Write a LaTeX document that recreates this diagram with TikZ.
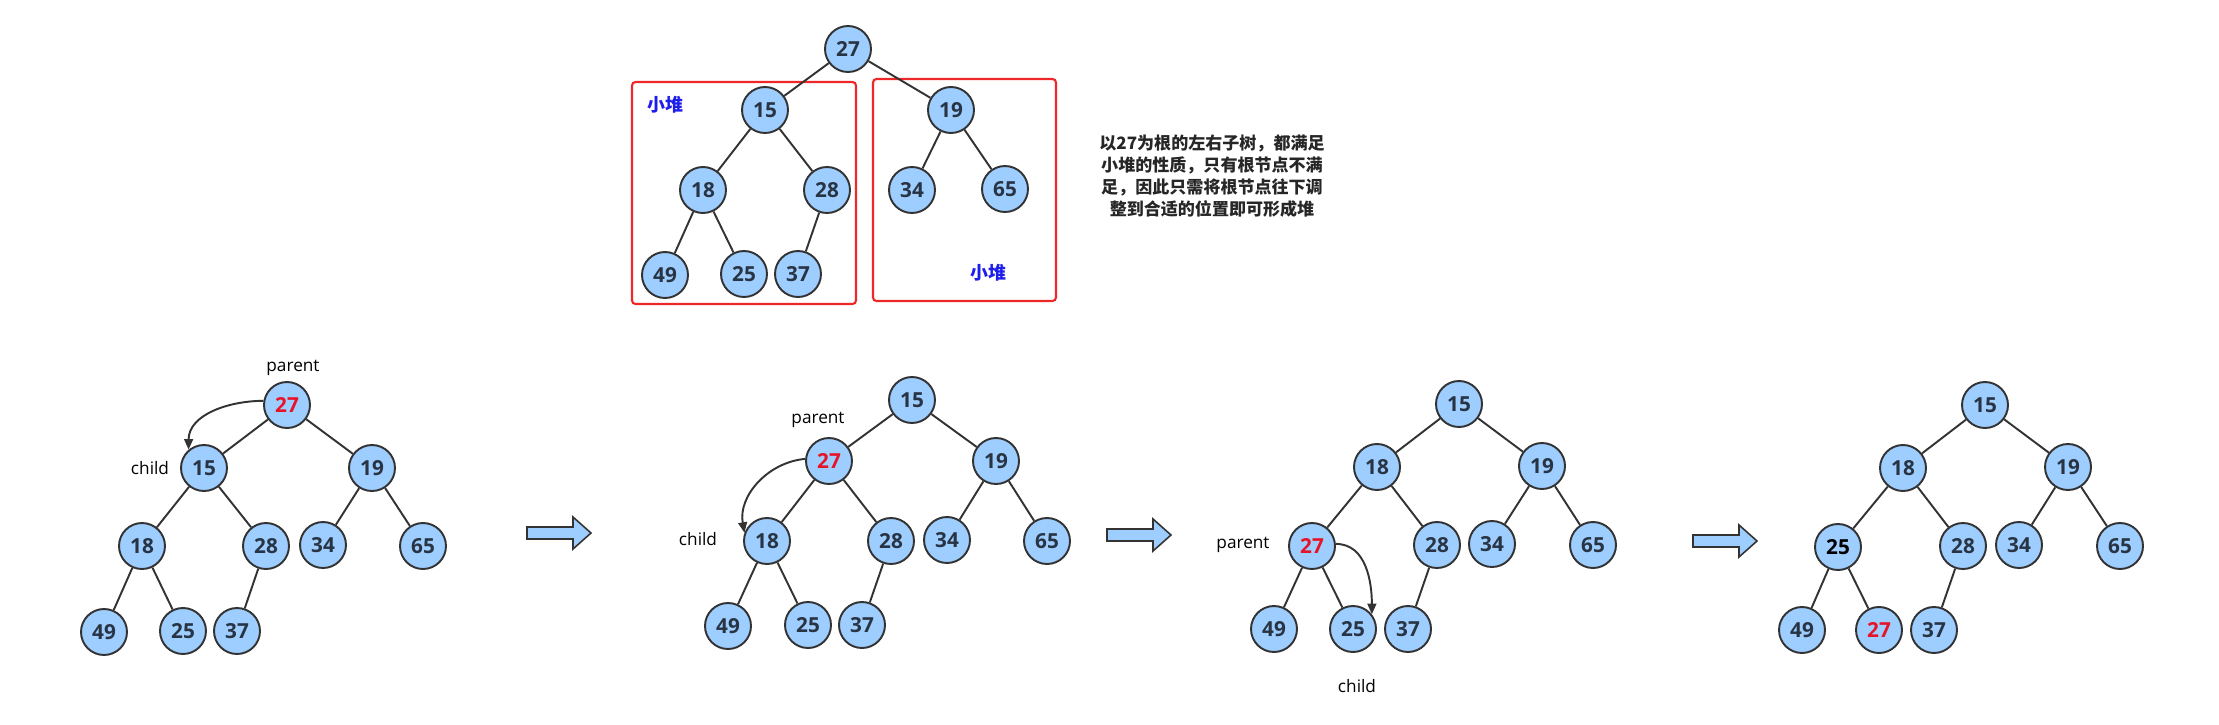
\documentclass[tikz,border=0pt]{standalone}
\usepackage{fontspec}
\setmainfont{Open Sans}
\newfontfamily\cjk{Noto Sans CJK SC}
\usetikzlibrary{arrows.meta}

\definecolor{nodeblue}{RGB}{158,206,255}
\definecolor{nodeline}{RGB}{51,51,51}
\definecolor{numtext}{RGB}{40,52,68}
\definecolor{keyred}{RGB}{230,20,40}
\definecolor{boxred}{RGB}{238,40,40}
\definecolor{heapblue}{RGB}{30,30,235}
\newcommand{\moved}[1]{\textcolor{keyred}{#1}}
\newcommand{\settled}[1]{\textcolor{black}{#1}}

\begin{document}
\begin{tikzpicture}[x=0.02cm, y=-0.02cm,
    heapnode/.style={circle, draw=nodeline, line width=1.1pt, fill=nodeblue, minimum size=0.92cm, inner sep=0pt, text=numtext, font=\fontsize{11.8}{13}\selectfont\bfseries},
    link/.style={nodeline, line width=1.1pt},
    swap/.style={nodeline, line width=1.1pt, -{Triangle[length=6pt,width=5pt]}},
    lbl/.style={font=\fontsize{9.8}{11}\selectfont, text=black},
    heaptag/.style={font=\cjk\bfseries\fontsize{10.2}{12}\selectfont, text=heapblue},
    note/.style={align=center, text=black!85, font=\cjk\bfseries\fontsize{9.7}{12.5}\selectfont},
    subheap/.style={draw=boxred, line width=1.2pt, rounded corners=2pt},
    fatarrow/.style={draw=nodeline, line width=0.9pt, fill=nodeblue, line join=miter}]
    \useasboundingbox (0,0) rectangle (2219,724);

    % Top: both subtrees of 27 are small heaps already
    \draw[subheap] (632,82) rectangle (856,304);
    \draw[subheap] (873,79) rectangle (1056,301);
    \node[heaptag] (lefttag) at (665,105) {小堆};
    \node[heaptag] (righttag) at (988,273) {小堆};
    \node[note] (why) at (1212,176) {以27为根的左右子树，都满足\\小堆的性质，只有根节点不满\\足，因此只需将根节点往下调\\整到合适的位置即可形成堆};

    \foreach \n/\x/\y/\v in {1/848/49/27, 2/765/110/15, 3/951/110/19, 4/703/190/18, 5/827/190/28,
                             6/912/190/34, 7/1005/189/65, 8/665/275/49, 9/744/274/25, 10/798/274/37}
        \node[heapnode] (t\n) at (\x,\y) {\v};

    % Bottom: sift 27 down step by step
    \foreach \n/\x/\y/\v in {1/287/405/\moved{27}, 2/204/468/15, 3/372/468/19, 4/142/546/18, 5/266/546/28,
                             6/323/545/34, 7/423/546/65, 8/104/632/49, 9/183/631/25, 10/237/631/37}
        \node[heapnode] (a\n) at (\x,\y) {\v};
    \foreach \n/\x/\y/\v in {1/912/400/15, 2/829/461/\moved{27}, 3/996/461/19, 4/767/541/18, 5/891/541/28,
                             6/947/540/34, 7/1047/541/65, 8/728/626/49, 9/808/625/25, 10/862/625/37}
        \node[heapnode] (b\n) at (\x,\y) {\v};
    \foreach \n/\x/\y/\v in {1/1459/404/15, 2/1377/467/18, 3/1542/466/19, 4/1312/546/\moved{27}, 5/1437/545/28,
                             6/1492/544/34, 7/1593/545/65, 8/1274/629/49, 9/1353/629/25, 10/1408/629/37}
        \node[heapnode] (c\n) at (\x,\y) {\v};
    \foreach \n/\x/\y/\v in {1/1985/405/15, 2/1903/468/18, 3/2068/467/19, 4/1838/547/\settled{25}, 5/1963/546/28,
                             6/2019/545/34, 7/2120/546/65, 8/1802/630/49, 9/1879/630/\moved{27}, 10/1934/630/37}
        \node[heapnode] (d\n) at (\x,\y) {\v};

    % tree edges, same shape for every tree
    \foreach \t in {t,a,b,c,d}
        \foreach \p/\c in {1/2,1/3,2/4,2/5,3/6,3/7,4/8,4/9,5/10}
            \draw[link] (\t\p) -- (\t\c);

    % parent / child markers
    \node[lbl] (aparent) at (293,368) {parent};
    \node[lbl] (achild) at (150,468) {child};
    \draw[swap] (a1.170) to[out=180, in=90] (a2.130);

    \node[lbl] (bparent) at (818,420) {parent};
    \node[lbl] (bchild) at (698,539) {child};
    \draw[swap] (b2.175) to[out=185, in=100] (b4.160);

    \node[lbl] (cparent) at (1243,545) {parent};
    \node[lbl] (cchild) at (1357,686) {child};
    \draw[swap] (c4.5) to[out=0, in=90] (c9.38);

    % step arrows
    \foreach \x/\y in {527/533, 1107/535, 1693/541}
        \draw[fatarrow] (\x,\y-6) -- ++(46,0) -- ++(0,-10) -- (\x+64,\y) -- (\x+46,\y+16) -- ++(0,-10) -- (\x,\y+6) -- cycle;
\end{tikzpicture}
\end{document}
